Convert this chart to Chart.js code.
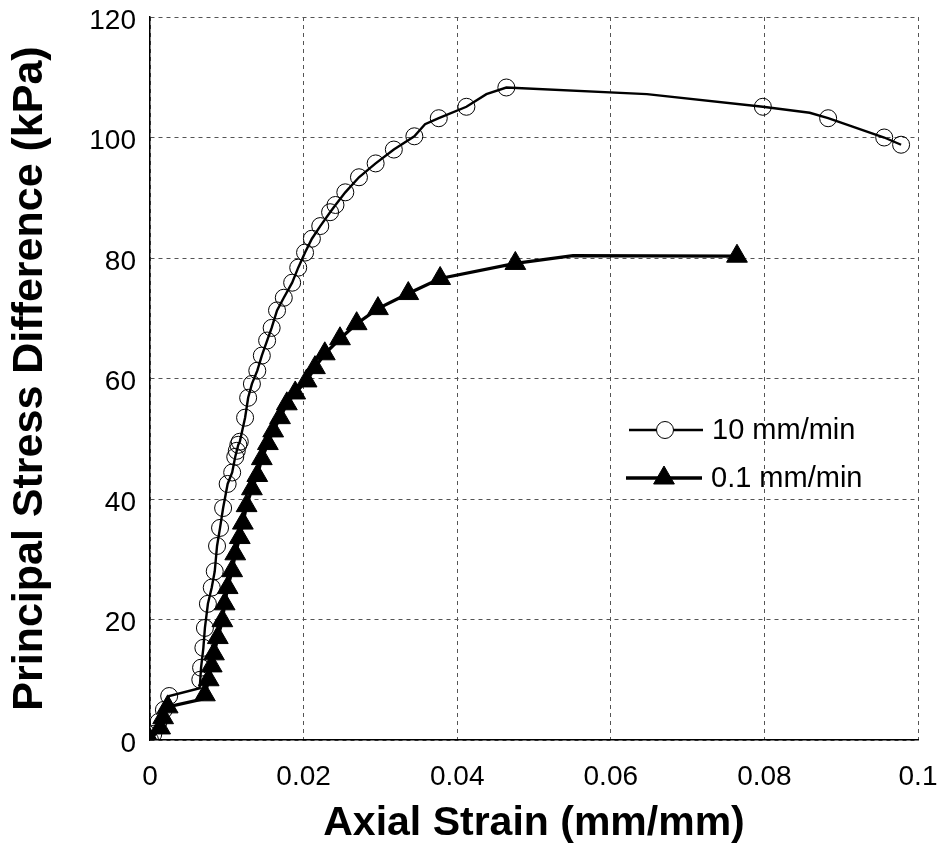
<!DOCTYPE html>
<html>
<head>
<meta charset="utf-8">
<title>Principal Stress Difference vs Axial Strain</title>
<script src="https://cdn.jsdelivr.net/npm/chart.js@4.4.1/dist/chart.umd.min.js"></script>
<style>
  html, body { margin: 0; padding: 0; background: #fff; }
</style>
</head>
<body>
<canvas id="stressChart" width="939" height="865"></canvas>
<script>
// Données : 10 mm/min (cercles)
const fastStrain = [0, 0.00043, 0.00112, 0.00181, 0.0025, 0.00646, 0.00655, 0.00665, 0.00695, 0.00715, 0.00754,
    0.00804, 0.00843, 0.00873, 0.00912, 0.00952, 0.01011, 0.0107, 0.0111, 0.0113, 0.0115, 0.01169, 0.01238,
    0.01278, 0.01327, 0.01397, 0.01456, 0.01525, 0.01584, 0.01654, 0.01742, 0.01851, 0.0193, 0.02019, 0.02108,
    0.02217, 0.02345, 0.02415, 0.02543, 0.02721, 0.02938, 0.03175, 0.03442, 0.03581, 0.0376, 0.0412, 0.0438,
    0.0464, 0.0647, 0.0798, 0.0859, 0.0883, 0.0956, 0.0978];
const fastStress = [0, 1, 3, 5, 7.3, 8.6, 10, 12, 15.3, 18.6, 22.6,
    25.3, 28, 32.2, 35.2, 38.5, 42.5, 44.4, 47, 48, 49, 49.5, 53.5,
    56.8, 59.1, 61.3, 63.8, 66.3, 68.4, 71.3, 73.4, 75.9, 78.4, 80.9, 83.2,
    85.3, 87.6, 88.8, 90.9, 93.4, 95.7, 98, 100.2, 102.2, 103.2, 105.1, 107.2,
    108.3, 107.2, 105.1, 104.1, 103.2, 100, 98.8];
// sommets de la courbe sans marqueur
const fastPlain = [0.00646, 0.03581, 0.0438, 0.0647, 0.0859];

// 0.1 mm/min (triangles)
const slowStrain = [0, 0.00132, 0.00171, 0.0023, 0.00685, 0.00715, 0.00764, 0.00804, 0.00833, 0.00883, 0.00942,
    0.00972, 0.01011, 0.0107, 0.0111, 0.01169, 0.01209, 0.01258, 0.01327, 0.01397, 0.01456, 0.01535, 0.01604,
    0.01693, 0.01782, 0.01891, 0.02039, 0.02148, 0.02276, 0.02474, 0.02691, 0.02968, 0.03363, 0.03778, 0.04757,
    0.05508, 0.07643];
const slowStress = [0, 2, 3.7, 5.5, 6.8, 7.5, 10, 12.3, 14.3, 17, 19.8,
    22.6, 25.3, 28.1, 30.9, 33.6, 36, 38.9, 41.7, 43.9, 46.7, 49.2, 51.3,
    53.5, 55.8, 57.6, 59.6, 61.8, 64.1, 66.6, 69.1, 71.6, 74.1, 76.6, 79.1,
    80.4, 80.3];
const slowPlain = [0.00685, 0.05508];

const seriesLabels = ['10 mm/min', '0.1 mm/min'];
const xTicks = [0, 0.02, 0.04, 0.06, 0.08, 0.1];
const yTicks = [0, 20, 40, 60, 80, 100, 120];

const FONT = "'Liberation Sans', Arial, sans-serif";

const toPoints = (xs, ys) => xs.map((x, i) => ({ x: x, y: ys[i] }));

// Légende dessinée à la main : trait + marqueur
const legendBox = {
    id: 'legendBox',
    afterDraw(chart) {
        const ctx = chart.ctx;
        const rows = [
            { ds: chart.data.datasets[1], y: 430, x0: 629, x1: 703, mx: 665 },
            { ds: chart.data.datasets[0], y: 478, x0: 626, x1: 702, mx: 664 }
        ];
        ctx.save();
        rows.forEach(r => {
            ctx.strokeStyle = '#000';
            ctx.lineWidth = r.ds.borderWidth;
            ctx.beginPath();
            ctx.moveTo(r.x0, r.y);
            ctx.lineTo(r.x1, r.y);
            ctx.stroke();
            const isCircle = r.ds.pointStyle === 'circle';
            ctx.fillStyle = isCircle ? '#fff' : '#000';
            ctx.lineWidth = 1;
            ctx.beginPath();
            if (isCircle) {
                ctx.arc(r.mx, r.y, 8.5, 0, Math.PI * 2);
            } else {
                ctx.moveTo(r.mx, r.y - 12);
                ctx.lineTo(r.mx + 10.4, r.y + 6);
                ctx.lineTo(r.mx - 10.4, r.y + 6);
                ctx.closePath();
            }
            ctx.fill();
            ctx.stroke();
            ctx.fillStyle = '#000';
            ctx.font = '29px ' + FONT;
            ctx.textAlign = 'left';
            ctx.textBaseline = 'middle';
            ctx.fillText(r.ds.label, r.x1 + 9, r.y + 1);
        });
        ctx.restore();
    }
};

const ctx = document.getElementById('stressChart').getContext('2d');
new Chart(ctx, {
    type: 'line',
    data: {
        datasets: [
            {
                label: seriesLabels[1],
                data: toPoints(slowStrain, slowStress),
                borderColor: '#000',
                borderWidth: 3.3,
                backgroundColor: '#000',
                pointStyle: 'triangle',
                pointRadius: c => slowPlain.includes(c.raw.x) ? 0 : 12,
                pointBorderWidth: 1,
                tension: 0,
                order: 0
            },
            {
                label: seriesLabels[0],
                data: toPoints(fastStrain, fastStress),
                borderColor: '#000',
                borderWidth: 2.4,
                backgroundColor: 'rgba(255,255,255,0)',
                pointStyle: 'circle',
                pointRadius: c => fastPlain.includes(c.raw.x) ? 0 : 8.5,
                pointBorderWidth: 1,
                tension: 0,
                order: 1
            }
        ]
    },
    options: {
        responsive: false,
        animation: false,
        layout: { padding: { top: 17, right: 21, left: 0, bottom: 0 } },
        plugins: {
            legend: { display: false },
            tooltip: { enabled: false }
        },
        scales: {
            x: {
                type: 'linear',
                min: 0,
                max: 0.1,
                afterFit: s => {
                    s.height = 125;
                    s.paddingLeft = 0;
                    s.paddingRight = 0;
                },
                afterBuildTicks: s => { s.ticks = xTicks.map(v => ({ value: v })); },
                ticks: {
                    font: { family: FONT, size: 28 },
                    color: '#000',
                    padding: 20,
                    maxRotation: 0,
                    callback: v => String(Number(v.toFixed(2)))
                },
                grid: { color: '#555', lineWidth: 1, drawTicks: false },
                border: { color: '#000', width: 1.5, dash: [4, 4] },
                title: {
                    display: true,
                    text: 'Axial Strain (mm/mm)',
                    font: { family: FONT, size: 41, weight: 'bold' },
                    color: '#000',
                    padding: { top: 0, bottom: 17 }
                }
            },
            y: {
                min: 0,
                max: 120,
                afterFit: s => {
                    s.width = 150;
                    s.paddingTop = 0;
                    s.paddingBottom = 0;
                },
                afterBuildTicks: s => { s.ticks = yTicks.map(v => ({ value: v })); },
                ticks: {
                    font: { family: FONT, size: 28 },
                    color: '#000',
                    padding: 14,
                    labelOffset: 4
                },
                grid: { color: '#555', lineWidth: 1, drawTicks: false },
                border: { color: '#000', width: 1.5, dash: [4, 4] },
                title: {
                    display: true,
                    text: 'Principal Stress Difference (kPa)',
                    font: { family: FONT, size: 43, weight: 'bold' },
                    color: '#000',
                    padding: { top: 4, bottom: 0 }
                }
            }
        }
    },
    plugins: [legendBox]
});
</script>
</body>
</html>
